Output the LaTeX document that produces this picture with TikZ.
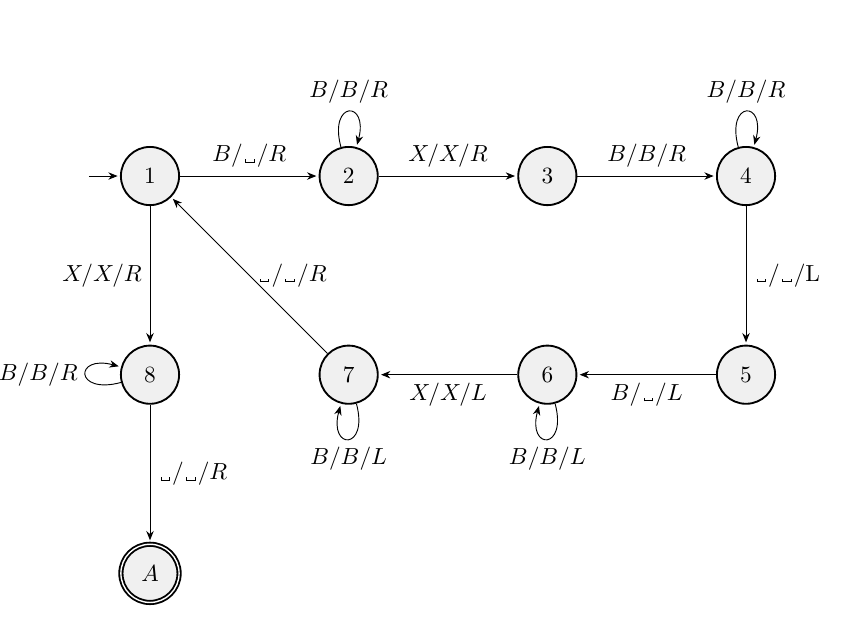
\documentclass[tikz,border=0pt]{standalone}
\usepackage{amsmath}
\usetikzlibrary{automata,arrows.meta}
\newcommand{\blanksym}{\mbox{\kern.1em\lower.1ex\hbox{\vrule height .35ex\vbox{\hrule width .32em}\vrule height .35ex}\kern.1em}}
\begin{document}
\begin{tikzpicture}[->,>={Stealth[length=4pt,width=3.2pt]},shorten >=1pt,
  every state/.style={thick,fill=gray!12,minimum size=2.5em},
  initial text=, initial distance=0.47cm]
\useasboundingbox (-2.265,2.658) rectangle (10.525,-6.704);
\node[state,initial] (1) at (0,0) {$1$};
\node[state] (2) at (3,0) {$2$};
\node[state] (3) at (6,0) {$3$};
\node[state] (4) at (9,0) {$4$};
\node[state] (5) at (9,-3) {$5$};
\node[state] (6) at (6,-3) {$6$};
\node[state] (7) at (3,-3) {$7$};
\node[state] (8) at (0,-3) {$8$};
\node[state,accepting] (A) at (0,-6) {$A$};
\path
 (1) edge node[above] {$B/\blanksym/R$} (2)
 (2) edge node[above] {$X/X/R$} (3)
 (3) edge node[above] {$B/B/R$} (4)
 (2) edge[loop above] node[above] {$B/B/R$} ()
 (4) edge[loop above] node[above] {$B/B/R$} ()
 (4) edge node[right] {$\blanksym/\blanksym/$L} (5)
 (5) edge node[below] {$B/\blanksym/L$} (6)
 (6) edge node[below] {$X/X/L$} (7)
 (6) edge[loop below] node[below] {$B/B/L$} ()
 (7) edge[loop below] node[below] {$B/B/L$} ()
 (7) edge node[right] {$\blanksym/\blanksym/R$} (1)
 (1) edge node[left] {$X/X/R$} (8)
 (8) edge[loop left] node[left] {$B/B/R$} ()
 (8) edge node[right] {$\blanksym/\blanksym/R$} (A);
\end{tikzpicture}
\end{document}
